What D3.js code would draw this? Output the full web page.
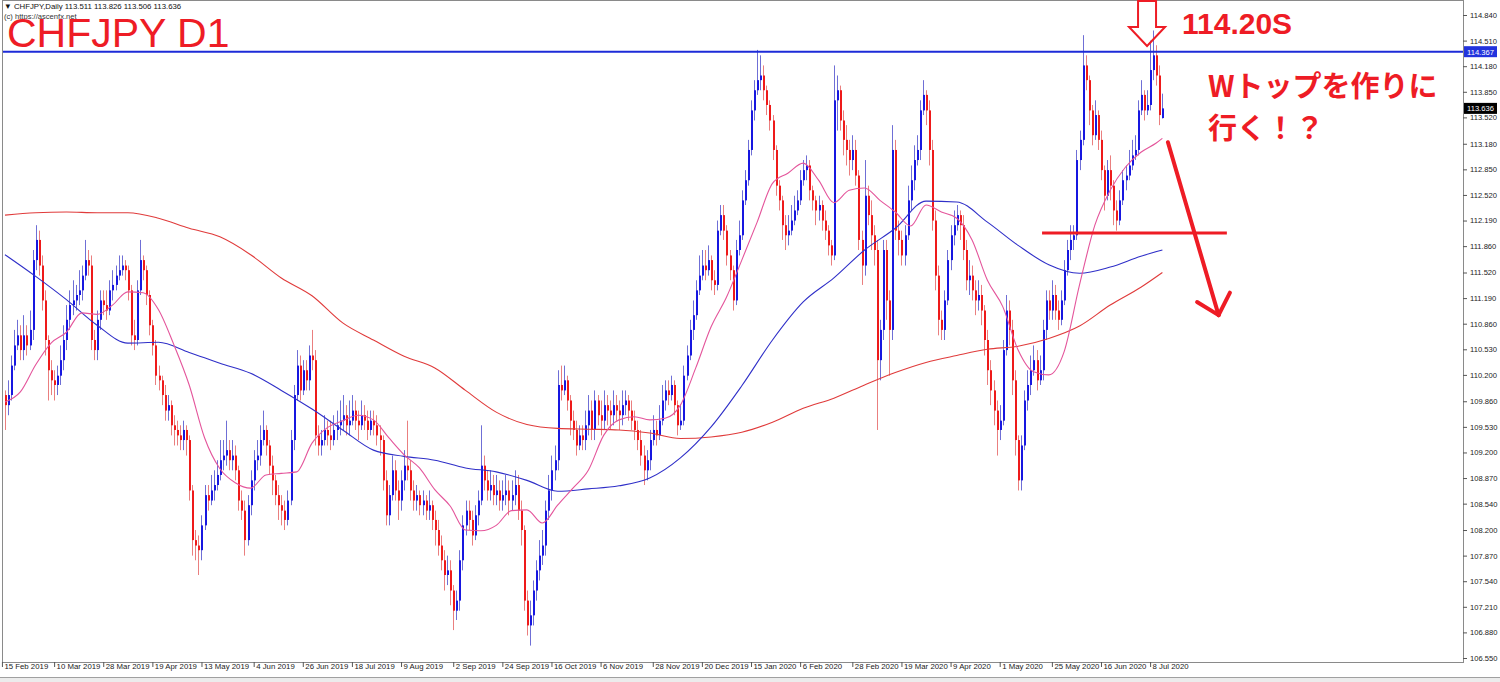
<!DOCTYPE html>
<html><head><meta charset="utf-8">
<script src="https://cdn.jsdelivr.net/npm/d3@7"></script>
<style>body{margin:0;background:#fff;}svg{display:block;}</style>
</head><body>
<svg id="c" width="1500" height="682"></svg>
<script>
// ---- data ----
const opens=[
109.94,109.81,109.94,110.32,110.58,110.71,110.52,110.71,110.58,110.78,
111.68,111.94,111.61,111.16,110.65,110.26,110.13,110.07,110.19,110.39,
110.65,110.91,111.10,111.16,111.23,111.29,111.48,111.68,111.61,110.65,
110.52,110.91,111.16,111.10,111.03,111.29,111.36,111.48,111.55,111.61,
111.55,111.29,110.71,110.65,111.29,111.68,111.55,111.23,110.84,110.58,
110.19,110.13,109.94,109.74,109.81,109.55,109.49,109.42,109.36,109.49,
109.36,108.71,108.07,108.00,107.94,108.26,108.65,108.58,108.71,108.78,
108.91,109.10,109.16,109.23,109.10,109.16,108.97,108.58,108.45,108.07,
108.52,108.84,109.10,109.16,109.36,109.49,109.29,109.03,108.84,108.65,
108.52,108.45,108.33,108.58,109.36,109.94,110.32,110.00,110.26,110.13,
110.45,110.39,109.42,109.29,109.36,109.49,109.42,109.36,109.49,109.55,
109.61,109.68,109.55,109.61,109.74,109.61,109.55,109.68,109.61,109.49,
109.61,109.55,109.42,109.36,108.84,108.39,108.65,108.97,108.71,108.58,
108.84,109.03,108.97,108.71,108.58,108.65,108.52,108.58,108.45,108.52,
108.33,108.20,108.00,107.81,107.62,107.68,107.42,107.16,107.29,107.81,
108.26,108.45,108.33,108.13,108.39,108.58,109.03,108.84,108.71,108.78,
108.65,108.71,108.58,108.65,108.71,108.58,108.65,108.78,108.45,108.20,
107.29,106.97,107.10,107.42,107.68,107.87,108.00,108.45,108.71,108.97,
109.10,110.07,110.00,110.13,109.87,109.61,109.49,109.29,109.42,109.36,
109.55,109.74,109.49,109.87,109.68,109.61,109.81,109.74,109.68,109.81,
109.74,109.68,109.81,109.87,109.74,109.61,109.49,109.36,109.16,108.97,
109.10,109.36,109.49,109.42,109.61,109.87,110.00,109.94,110.07,109.81,
109.55,109.61,110.19,110.45,110.78,110.97,111.29,111.48,111.61,111.55,
111.68,111.42,111.36,112.06,112.26,112.06,111.74,111.55,111.16,111.81,
112.00,112.45,112.71,113.10,113.61,113.87,114.00,114.06,113.87,113.68,
113.48,113.10,112.64,112.45,112.13,112.00,112.06,112.19,112.32,112.45,
112.71,112.84,112.90,112.58,112.45,112.32,112.39,112.19,112.06,111.87,
111.74,113.74,113.87,113.48,113.23,113.10,112.97,113.10,112.77,111.94,
111.61,112.51,112.26,112.00,111.81,110.39,110.78,111.81,111.16,110.78,
113.10,112.06,111.94,111.74,112.00,112.45,112.71,112.97,113.10,113.61,
113.81,113.61,113.10,112.19,111.48,110.91,110.78,111.16,111.68,112.00,
112.13,112.26,112.13,111.81,111.42,111.48,111.29,111.16,111.23,111.03,
110.65,110.26,110.00,109.74,109.49,109.61,110.52,111.03,110.78,110.13,
109.36,108.84,109.29,109.87,110.07,110.26,110.39,110.13,110.26,110.78,
111.16,111.03,111.23,111.03,110.91,111.16,111.55,111.81,111.94,112.00,
112.97,113.23,114.19,114.00,113.61,113.29,113.55,113.23,112.84,112.51,
112.84,112.64,112.32,112.19,112.45,112.71,112.77,112.90,113.03,113.10,
113.61,113.81,113.61,113.68,114.13,114.32,114.06,113.511];
const highs=[
110.00,110.13,110.45,110.78,110.91,110.84,110.97,110.84,111.03,111.81,
112.13,112.06,111.74,111.29,110.71,110.39,110.26,110.32,110.58,110.84,
111.10,111.29,111.42,111.36,111.55,111.61,111.94,111.81,111.74,110.78,
111.03,111.29,111.29,111.29,111.42,111.55,111.61,111.74,111.74,111.68,
111.61,111.36,110.91,111.42,111.94,111.74,111.61,111.29,110.91,110.65,
110.32,110.19,110.07,109.94,109.87,109.68,109.61,109.55,109.61,109.55,
109.42,108.78,108.20,108.13,108.39,108.78,108.78,108.91,108.97,109.10,
109.36,109.36,109.61,109.36,109.36,109.29,109.03,108.71,108.58,108.65,
108.97,109.23,109.36,109.55,109.74,109.55,109.36,109.16,108.91,108.78,
108.65,108.58,108.71,109.49,110.07,110.52,110.45,110.39,110.39,110.58,
110.78,110.52,109.55,109.49,109.68,109.61,109.61,109.68,109.74,109.87,
109.94,109.81,109.87,109.94,109.87,109.74,109.87,109.81,109.74,109.74,
109.74,109.68,109.55,109.42,108.97,108.78,109.16,109.10,108.84,108.97,
109.23,109.61,109.10,108.84,108.78,108.71,108.71,108.65,108.71,108.58,
108.45,108.33,108.13,107.94,107.87,107.81,107.49,107.42,107.94,108.39,
108.58,108.58,108.45,108.52,108.71,109.55,109.16,108.97,108.97,108.91,
108.91,108.84,108.84,108.91,108.84,108.84,108.97,108.91,108.58,108.26,
107.42,107.29,107.55,107.81,108.07,108.20,108.58,108.91,109.16,109.29,
110.26,110.32,110.32,110.19,109.94,109.74,109.61,109.55,109.55,109.74,
109.94,109.87,110.00,109.94,109.87,110.00,109.94,109.87,110.00,109.94,
109.87,110.00,110.00,109.94,109.87,109.74,109.61,109.49,109.29,109.23,
109.49,109.68,109.61,109.81,110.07,110.13,110.13,110.19,110.13,109.87,
109.81,110.32,110.58,110.91,111.16,111.42,111.74,111.81,111.81,111.87,
111.74,111.55,112.19,112.39,112.39,112.13,111.81,111.61,111.94,112.19,
112.58,112.84,113.23,113.74,114.00,114.39,114.32,114.19,113.93,113.74,
113.55,113.16,112.71,112.51,112.26,112.26,112.39,112.51,112.58,112.84,
112.97,113.03,112.97,112.64,112.51,112.51,112.45,112.32,112.13,111.94,
114.19,114.06,113.93,113.61,113.42,113.23,113.29,113.23,112.84,112.06,
112.97,112.64,112.45,112.13,111.94,110.91,111.94,111.94,111.29,113.42,
113.23,112.19,112.06,112.13,112.64,112.90,113.16,113.29,113.74,114.00,
113.87,113.74,113.23,112.32,111.61,111.03,111.29,111.81,112.13,112.32,
112.39,112.32,112.26,111.94,111.68,111.61,111.42,111.42,111.36,111.10,
110.78,110.39,110.13,109.87,109.81,110.65,111.23,111.16,110.91,110.26,
109.42,109.42,110.00,110.26,110.45,110.58,110.52,110.45,110.91,111.29,
111.29,111.42,111.36,111.16,111.29,111.68,111.94,112.13,112.13,113.10,
113.35,114.58,114.32,114.06,113.68,113.74,113.61,113.35,112.90,112.97,
113.03,112.71,112.45,112.58,112.84,112.90,113.10,113.23,113.29,113.74,
114.00,113.87,113.87,114.51,114.64,114.45,114.19,113.826];
const lows=[
109.49,109.68,109.87,110.26,110.52,110.39,110.39,110.45,110.52,110.65,
111.55,111.48,111.03,110.45,109.87,109.94,109.87,109.94,110.07,110.26,
110.52,110.78,110.97,111.03,111.10,111.16,111.42,111.48,110.52,110.39,
110.39,110.78,110.97,110.91,110.97,111.16,111.29,111.42,111.48,111.42,
111.16,110.58,110.52,110.58,111.23,111.42,111.10,110.71,110.45,110.07,
110.00,109.81,109.61,109.61,109.42,109.29,109.29,109.23,109.23,109.16,
108.58,107.87,107.81,107.62,107.81,108.20,108.45,108.52,108.58,108.71,
108.84,108.97,109.03,108.97,108.97,108.84,108.45,108.33,107.87,108.00,
108.39,108.71,108.97,109.03,109.29,109.16,108.91,108.65,108.52,108.33,
108.26,108.20,108.26,108.52,109.23,109.87,109.87,109.94,110.00,110.00,
110.26,109.29,109.16,109.16,109.29,109.29,109.23,109.29,109.36,109.42,
109.49,109.42,109.42,109.55,109.49,109.36,109.49,109.49,109.36,109.42,
109.42,109.29,109.16,108.71,108.26,108.26,108.58,108.58,108.33,108.45,
108.71,108.84,108.58,108.45,108.45,108.39,108.39,108.33,108.33,108.20,
108.00,107.87,107.68,107.42,107.49,107.23,106.91,107.04,107.16,107.68,
108.13,108.20,108.00,108.07,108.26,108.52,108.71,108.58,108.58,108.52,
108.52,108.45,108.45,108.52,108.39,108.45,108.52,108.33,108.00,107.16,
106.84,106.71,106.97,107.29,107.55,107.75,107.87,108.33,108.58,108.84,
108.97,109.87,109.94,109.74,109.42,109.36,109.16,109.23,109.23,109.23,
109.42,109.36,109.36,109.55,109.42,109.49,109.55,109.49,109.55,109.61,
109.49,109.55,109.68,109.61,109.49,109.36,109.23,109.03,108.78,108.84,
108.97,109.29,109.29,109.36,109.55,109.74,109.81,109.87,109.68,109.42,
109.49,109.55,110.13,110.39,110.65,110.91,111.23,111.42,111.42,111.48,
111.29,111.23,111.29,112.00,111.94,111.61,111.42,111.03,111.10,111.74,
111.94,112.39,112.64,113.03,113.48,113.81,113.87,113.74,113.55,113.35,
112.97,112.51,112.32,111.94,111.81,111.87,112.00,112.13,112.26,112.39,
112.64,112.71,112.45,112.32,112.13,112.19,112.06,111.94,111.74,111.61,
111.68,113.35,113.35,113.03,112.90,112.77,112.84,112.64,111.81,111.36,
111.48,112.13,111.81,111.61,109.49,110.13,110.65,110.91,110.19,110.65,
111.94,111.74,111.61,111.61,111.94,112.32,112.58,112.90,112.97,113.55,
113.42,112.90,112.06,111.29,110.71,110.65,110.65,111.10,111.55,111.87,
112.06,111.94,111.68,111.29,111.23,111.16,110.97,111.03,110.84,110.45,
110.07,109.81,109.55,109.16,109.36,109.55,110.45,110.58,109.94,109.16,
108.71,108.71,109.23,109.74,109.94,110.19,110.00,110.07,110.13,110.65,
110.91,110.91,110.91,110.78,110.84,111.10,111.48,111.68,111.81,111.94,
112.84,113.16,113.87,113.42,113.16,113.23,113.10,112.71,112.32,112.45,
112.45,112.13,112.06,112.13,112.39,112.58,112.71,112.84,112.97,113.03,
113.55,113.48,113.55,113.61,114.00,113.93,113.42,113.506];
const closes=[
109.81,109.94,110.32,110.58,110.71,110.52,110.71,110.58,110.78,111.68,
111.94,111.61,111.16,110.65,110.26,110.13,110.07,110.19,110.39,110.65,
110.91,111.10,111.16,111.23,111.29,111.48,111.68,111.61,110.65,110.52,
110.91,111.16,111.10,111.03,111.29,111.36,111.48,111.55,111.61,111.55,
111.29,110.71,110.65,111.29,111.68,111.55,111.23,110.84,110.58,110.19,
110.13,109.94,109.74,109.81,109.55,109.49,109.42,109.36,109.49,109.36,
108.71,108.07,108.00,107.94,108.26,108.65,108.58,108.71,108.78,108.91,
109.10,109.16,109.23,109.10,109.16,108.97,108.58,108.45,108.07,108.52,
108.84,109.10,109.16,109.36,109.49,109.29,109.03,108.84,108.65,108.52,
108.45,108.33,108.58,109.36,109.94,110.32,110.00,110.26,110.13,110.45,
110.39,109.42,109.29,109.36,109.49,109.42,109.36,109.49,109.55,109.61,
109.68,109.55,109.61,109.74,109.61,109.55,109.68,109.61,109.49,109.61,
109.55,109.42,109.36,108.84,108.39,108.65,108.97,108.71,108.58,108.84,
109.03,108.97,108.71,108.58,108.65,108.52,108.58,108.45,108.52,108.33,
108.20,108.00,107.81,107.62,107.68,107.42,107.16,107.29,107.81,108.26,
108.45,108.33,108.13,108.39,108.58,109.03,108.84,108.71,108.78,108.65,
108.71,108.58,108.65,108.71,108.58,108.65,108.78,108.45,108.20,107.29,
106.97,107.10,107.42,107.68,107.87,108.00,108.45,108.71,108.97,109.10,
110.07,110.00,110.13,109.87,109.61,109.49,109.29,109.42,109.36,109.55,
109.74,109.49,109.87,109.68,109.61,109.81,109.74,109.68,109.81,109.74,
109.68,109.81,109.87,109.74,109.61,109.49,109.36,109.16,108.97,109.10,
109.36,109.49,109.42,109.61,109.87,110.00,109.94,110.07,109.81,109.55,
109.61,110.19,110.45,110.78,110.97,111.29,111.48,111.61,111.55,111.68,
111.42,111.36,112.06,112.26,112.06,111.74,111.55,111.16,111.81,112.00,
112.45,112.71,113.10,113.61,113.87,114.00,114.06,113.87,113.68,113.48,
113.10,112.64,112.45,112.13,112.00,112.06,112.19,112.32,112.45,112.71,
112.84,112.90,112.58,112.45,112.32,112.39,112.19,112.06,111.87,111.74,
113.74,113.87,113.48,113.23,113.10,112.97,113.10,112.77,111.94,111.61,
112.51,112.26,112.00,111.81,110.39,110.78,111.81,111.16,110.78,113.10,
112.06,111.94,111.74,112.00,112.45,112.71,112.97,113.10,113.61,113.81,
113.61,113.10,112.19,111.48,110.91,110.78,111.16,111.68,112.00,112.13,
112.26,112.13,111.81,111.42,111.48,111.29,111.16,111.23,111.03,110.65,
110.26,110.00,109.74,109.49,109.61,110.52,111.03,110.78,110.13,109.36,
108.84,109.29,109.87,110.07,110.26,110.39,110.13,110.26,110.78,111.16,
111.03,111.23,111.03,110.91,111.16,111.55,111.81,111.94,112.00,112.97,
113.23,114.19,114.00,113.61,113.29,113.55,113.23,112.84,112.51,112.84,
112.64,112.32,112.19,112.45,112.71,112.77,112.90,113.03,113.10,113.61,
113.81,113.61,113.68,114.13,114.32,114.06,113.55,113.636];

// moving averages sampled along the bar index
const ma200Idx=[0,10,20,30,40,50,60,70,80,90,100,110,120,130,140,150,160,170,180,190,200,210,220,230,240,250,260,270,280,290,300,310,320,330,340,350,360,370,377];
const ma200=[112.26,112.29,112.30,112.29,112.29,112.22,112.09,111.98,111.75,111.45,111.22,110.87,110.65,110.44,110.29,110.00,109.72,109.56,109.51,109.50,109.49,109.45,109.38,109.40,109.46,109.59,109.77,109.90,110.07,110.23,110.36,110.45,110.53,110.57,110.67,110.83,111.10,111.33,111.52];
const maBlueIdx=ma200Idx;
const maBlue=[111.75,111.47,111.17,110.84,110.61,110.62,110.49,110.35,110.22,110.00,109.76,109.49,109.23,109.15,109.10,109.00,108.95,108.84,108.70,108.73,108.77,108.87,109.13,109.53,110.06,110.65,111.14,111.45,111.81,112.09,112.44,112.43,112.17,111.87,111.62,111.51,111.59,111.73,111.81];
const maPinkIdx=[0,5,10,15,20,25,30,35,40,45,50,55,60,65,70,75,80,85,90,95,100,105,110,115,120,125,130,135,140,145,150,155,160,165,170,175,180,185,190,195,200,205,210,215,220,225,230,235,240,245,250,255,260,265,270,275,280,285,290,295,300,305,310,315,320,325,330,335,340,345,350,355,360,365,370,375,377];
const maPink=[109.85,109.98,110.33,110.61,110.75,111.00,110.98,111.10,111.27,111.26,
111.04,110.59,110.07,109.39,108.99,108.81,108.74,108.91,108.93,108.95,
109.32,109.52,109.61,109.68,109.62,109.39,109.17,109.00,108.72,108.51,
108.20,108.19,108.26,108.45,108.46,108.29,108.52,108.74,108.97,109.42,
109.62,109.66,109.62,109.64,109.81,110.29,110.82,111.20,111.68,112.17,
112.67,112.80,112.93,112.71,112.42,112.58,112.61,112.45,112.30,112.12,
112.39,112.30,112.22,111.94,111.42,111.08,110.52,110.24,110.20,110.50,
111.36,112.13,112.58,112.88,113.07,113.19,113.25];

const yTicks=[114.840,114.510,114.180,113.850,113.520,113.180,112.850,112.520,112.190,111.860,111.520,111.190,110.860,110.530,110.200,109.860,109.530,109.200,108.870,108.540,108.200,107.870,107.540,107.210,106.880,106.550];
const xLabels=["15 Feb 2019","10 Mar 2019","28 Mar 2019","19 Apr 2019","13 May 2019","4 Jun 2019","26 Jun 2019","18 Jul 2019","9 Aug 2019","2 Sep 2019","24 Sep 2019","16 Oct 2019","6 Nov 2019","28 Nov 2019","20 Dec 2019","15 Jan 2020","6 Feb 2020","28 Feb 2020","19 Mar 2020","9 Apr 2020","1 May 2020","25 May 2020","16 Jun 2020","8 Jul 2020"];
const xLabelIdx=[-1,16,32,48,64,81,97,113,129,146,162,178,194,211,227,243,259,276,292,308,324,341,357,373];

const resistance=114.367, lastPrice=113.636;
const levelLine={p:112.03,i0:337.8,i1:398};
const arrowLine={i0:378.8,p0:113.20,i1:395.3,p1:110.97};
const arrowHeads=[{i:388.3,p:111.14},{i:399,p:111.26}];
const downMark={i:372,p:114.44};

// ---- drawing ----
const svg=d3.select('#c');
const x=d3.scaleLinear().domain([0,377]).range([5,1162.4]);
const y=d3.scaleLinear().domain([106.55,114.84]).range([658,15]);
const RED='#ee1c25';

// frame
svg.append('rect').attr('x',0).attr('y',0).attr('width',1500).attr('height',682).attr('fill','#fff');
svg.append('rect').attr('x',0).attr('y',677).attr('width',1500).attr('height',5).attr('fill','#ececec');
svg.append('line').attr('x1',0).attr('x2',1500).attr('y1',677.5).attr('y2',677.5).attr('stroke','#a0a0a0');
svg.append('rect').attr('x',2.5).attr('y',0.5).attr('width',1461).attr('height',662).attr('fill','none').attr('stroke','#8a8a8a');

// candles
const idx=d3.range(closes.length);
const up=i=>closes[i]>=opens[i];
const g=svg.append('g');
g.selectAll('rect.w').data(idx).join('rect').attr('class','w')
 .attr('x',i=>Math.round(x(i))).attr('width',1)
 .attr('y',i=>y(highs[i])).attr('height',i=>Math.max(1,y(lows[i])-y(highs[i])))
 .attr('fill',i=>up(i)?'#6f6fd6':'#ea7f7f');
g.selectAll('rect.b').data(idx).join('rect').attr('class','b')
 .attr('x',i=>Math.round(x(i))).attr('width',2)
 .attr('y',i=>y(Math.max(opens[i],closes[i])))
 .attr('height',i=>Math.max(1,Math.abs(y(opens[i])-y(closes[i]))))
 .attr('fill',i=>up(i)?'#1717e0':'#ee1a1a');

// moving averages
const line=d3.line().x(d=>x(d[0])).y(d=>y(d[1])).curve(d3.curveMonotoneX);
const drawMA=(ix,vals,col)=>svg.append('path').attr('d',line(ix.map((k,j)=>[k,vals[j]])))
 .attr('fill','none').attr('stroke',col).attr('stroke-width',1.1);
drawMA(ma200Idx,ma200,'#e03b3b');
drawMA(maBlueIdx,maBlue,'#2f2fc8');
drawMA(maPinkIdx,maPink,'#e4559b');

// resistance line
svg.append('line').attr('x1',3).attr('x2',1463).attr('y1',y(resistance)).attr('y2',y(resistance))
 .attr('stroke','#1d2bd8').attr('stroke-width',2);

// right axis
const ya=svg.append('g').attr('transform','translate(1463,0)')
 .call(d3.axisRight(y).tickValues(yTicks).tickSize(4).tickPadding(3).tickFormat(d=>d.toFixed(3)));
ya.select('.domain').remove();
ya.selectAll('line').attr('stroke','#555');
ya.selectAll('text').attr('font-family','Liberation Sans, Arial, sans-serif').attr('font-size','7.6px').attr('fill','#222');

// price boxes
const box=(p,bg)=>{const gg=svg.append('g');
 gg.append('rect').attr('x',1464).attr('y',y(p)-5.5).attr('width',33).attr('height',11).attr('fill',bg);
 gg.append('text').attr('x',1467).attr('y',y(p)+3).attr('font-family','Liberation Sans, Arial, sans-serif')
  .attr('font-size','7.6px').attr('fill','#fff').text(p.toFixed(3));};
box(resistance,'#2233dd');
box(lastPrice,'#000');

// bottom axis
const xa=svg.append('g').attr('transform','translate(0,662)')
 .call(d3.axisBottom(x).tickValues(xLabelIdx).tickSize(5).tickFormat((d,j)=>xLabels[j]));
xa.select('.domain').remove();
xa.selectAll('line').attr('stroke','#555');
xa.selectAll('text').attr('text-anchor','start').attr('dx','2px').attr('dy','-0.15em')
 .attr('font-family','Liberation Sans, Arial, sans-serif').attr('font-size','7.8px').attr('fill','#222');

// header
svg.append('text').attr('x',4).attr('y',9).attr('font-family','Liberation Sans, Arial, sans-serif')
 .attr('font-size','7.8px').attr('fill','#111').text('▼ CHFJPY,Daily  113.511 113.826 113.506 113.636');
svg.append('text').attr('x',4).attr('y',19).attr('font-family','Liberation Sans, Arial, sans-serif')
 .attr('font-size','7.6px').attr('fill','#333').text('(c) https://ascenfx.net');
svg.append('text').attr('x',7).attr('y',47).attr('font-family','Liberation Sans, Arial, sans-serif')
 .attr('font-size','41px').attr('fill',RED).text('CHFJPY D1');

// annotations
const tipX=x(downMark.i), tipY=y(downMark.p);
svg.append('path').attr('d',`M${tipX-9},${tipY-45}L${tipX+9},${tipY-45}L${tipX+9},${tipY-19}L${tipX+18},${tipY-19}L${tipX},${tipY}L${tipX-18},${tipY-19}L${tipX-9},${tipY-19}Z`)
 .attr('fill','none').attr('stroke',RED).attr('stroke-width',2);
svg.append('text').attr('x',1182).attr('y',34).attr('font-family','Liberation Sans, Arial, sans-serif')
 .attr('font-weight','bold').attr('font-size','30px').attr('fill',RED).text('114.20S');
svg.append('text').attr('x',1208).attr('y',97).attr('font-family','Noto Sans CJK JP, sans-serif')
 .attr('font-weight','bold').attr('font-size','29px').attr('fill',RED).text('Wトップを作りに');
svg.append('text').attr('x',1208).attr('y',139).attr('font-family','Noto Sans CJK JP, sans-serif')
 .attr('font-weight','bold').attr('font-size','29px').attr('fill',RED).text('行く！？');
svg.append('line').attr('x1',x(levelLine.i0)).attr('x2',x(levelLine.i1)).attr('y1',y(levelLine.p)).attr('y2',y(levelLine.p))
 .attr('stroke',RED).attr('stroke-width',3);
svg.append('line').attr('x1',x(arrowLine.i0)).attr('y1',y(arrowLine.p0)).attr('x2',x(arrowLine.i1)).attr('y2',y(arrowLine.p1))
 .attr('stroke',RED).attr('stroke-width',4).attr('stroke-linecap','round');
arrowHeads.forEach(h=>svg.append('line').attr('x1',x(h.i)).attr('y1',y(h.p)).attr('x2',x(arrowLine.i1)).attr('y2',y(arrowLine.p1))
 .attr('stroke',RED).attr('stroke-width',4).attr('stroke-linecap','round'));
</script>
</body></html>
